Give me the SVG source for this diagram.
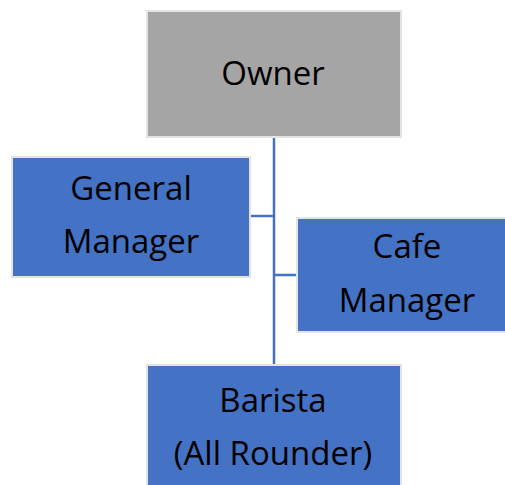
<svg xmlns="http://www.w3.org/2000/svg" width="505" height="485" viewBox="0 0 505 485">
<style>
.box{stroke:#e3e3e3;stroke-width:2}
.blue{fill:#4472c4}
.gray{fill:#a5a5a5}
.t{font-family:"Open Sans","Liberation Sans",sans-serif;font-size:33px;fill:#000;text-anchor:middle}
.c{stroke:#4472c4;stroke-width:2.5;fill:none}
</style>
<rect width="505" height="485" fill="#fff"/>
<g id="connectors">
<line class="c" x1="274" y1="138" x2="274" y2="365"/>
<line class="c" x1="250" y1="216" x2="274" y2="216"/>
<line class="c" x1="274" y1="275" x2="297" y2="275"/>
</g>
<g id="owner">
<rect class="box gray" x="147" y="11" width="254" height="126"/>
<text class="t" x="273" y="85">Owner</text>
</g>
<g id="general-manager">
<rect class="box blue" x="12" y="157" width="238" height="120"/>
<text class="t" x="131" y="200">General</text>
<text class="t" x="131" y="253">Manager</text>
</g>
<g id="cafe-manager">
<rect class="box blue" x="297" y="218" width="222" height="114"/>
<text class="t" x="407" y="258">Cafe</text>
<text class="t" x="407" y="312">Manager</text>
</g>
<g id="barista">
<rect class="box blue" x="147" y="365" width="254" height="130"/>
<text class="t" x="273" y="412">Barista</text>
<text class="t" x="273" y="465">(All Rounder)</text>
</g>
</svg>
